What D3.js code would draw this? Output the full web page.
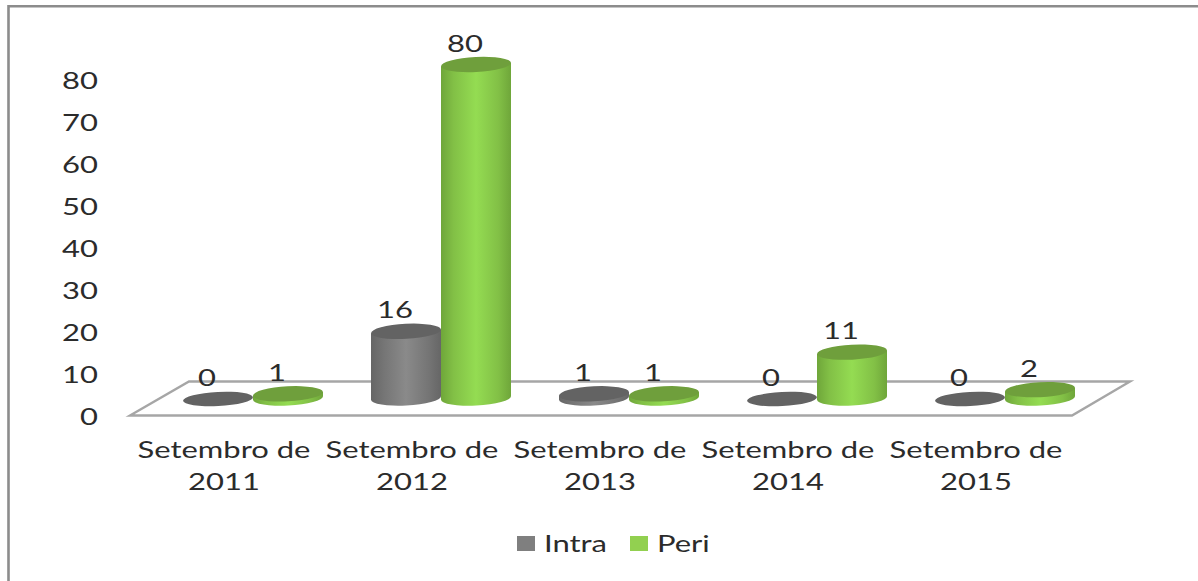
<!DOCTYPE html>
<html><head><meta charset="utf-8">
<script src="https://cdn.jsdelivr.net/npm/d3@7"></script>
<style>html,body{margin:0;background:#fff}svg{display:block}text{font-family:Lato,sans-serif;fill:#2b2b2b}</style>
</head><body><svg id="c" width="1198" height="581"></svg>
<script>
const categories = [["Setembro de","2011"],["Setembro de","2012"],["Setembro de","2013"],["Setembro de","2014"],["Setembro de","2015"]];
const seriesNames = ["Intra","Peri"];
const intra = [0,16,1,0,0];
const peri = [1,80,1,11,2];
const yTicks = [0,10,20,30,40,50,60,70,80];

const svg = d3.select("#c");
const FS = 24, SX = 1.29;
const stretched = (x,y)=>`translate(${x},${y}) scale(${SX},1)`;

const defs = svg.append("defs");
const palette = {
  Intra:{edge:"#666666",near:"#757575",mid:"#8a8a8a",top:"#636363",sw:"#7f7f7f"},
  Peri:{edge:"#6fa63a",near:"#82c046",mid:"#94dc52",top:"#6f9f3c",sw:"#92d050"}
};
seriesNames.forEach(n=>{
  const g = defs.append("linearGradient").attr("id","g"+n).attr("x1",0).attr("x2",1).attr("y1",0).attr("y2",0);
  [[0,palette[n].edge],[.18,palette[n].near],[.5,palette[n].mid],[.82,palette[n].near],[1,palette[n].edge]]
    .forEach(([o,c])=>g.append("stop").attr("offset",o).attr("stop-color",c));
});

// frame
svg.append("path").attr("d","M8.5,581V6.2H1198").attr("fill","none").attr("stroke","#8c8c8c").attr("stroke-width",2.6);

// floor
svg.append("path").attr("d","M130,415.5L189,381.5H1130L1072,415.5Z").attr("fill","#fff").attr("stroke","#a6a6a6").attr("stroke-width",2.4);

const x0 = d3.scaleBand().domain(d3.range(categories.length)).range([130,1070]);
const x1 = d3.scaleBand().domain(seriesNames).range([-41,99]);
const yAxisScale = d3.scaleLinear().domain([0,80]).range([415,79]);
const yBar = d3.scaleLinear().domain([0,80]).range([398,64.5]);

// y axis
const ax = svg.append("g").attr("transform","translate(98,0)").call(d3.axisLeft(yAxisScale).tickValues(yTicks).tickSize(0).tickPadding(0));
ax.select(".domain").remove();
ax.selectAll("text").attr("font-size",FS).attr("x",null).attr("dy",null).attr("text-anchor","end")
  .attr("dominant-baseline","central")
  .attr("transform",stretched(0,0));

// bars
const rx = 35, ry = 7.5, tilt = -3, dy = rx*Math.sin(3*Math.PI/180);
const rows = [];
categories.forEach((c,i)=>{rows.push({i,s:"Intra",v:intra[i]});rows.push({i,s:"Peri",v:peri[i]});});
const bar = svg.append("g").selectAll("g").data(rows).join("g");
bar.each(function(d){
  const g = d3.select(this), cx = x0(d.i)+x0.bandwidth()/2+x1(d.s)+x1.bandwidth()/2;
  const top = d.v===0 ? yBar(0)+1 : yBar(d.v), base = yBar(0);
  if(d.v>0){
    g.append("path").attr("fill",`url(#g${d.s})`)
     .attr("d",`M${cx-rx},${top+dy}L${cx-rx},${base+dy}A${rx},${ry} ${tilt} 0 0 ${cx+rx},${base-dy}L${cx+rx},${top-dy}Z`);
  }
  g.append("ellipse").attr("cx",cx).attr("cy",top).attr("rx",rx).attr("ry",d.v===0?7:ry)
   .attr("transform",`rotate(${tilt},${cx},${top})`).attr("fill",palette[d.s].top);
  svg.append("text").attr("font-size",FS).attr("text-anchor","middle").attr("dominant-baseline","central")
   .attr("transform",stretched(cx-11,top-22)).text(d.v);
});

// category labels
categories.forEach((c,i)=>{
  c.forEach((line,j)=>{
    svg.append("text").attr("font-size",FS).attr("text-anchor","middle").attr("dominant-baseline","central")
     .attr("transform",stretched(x0(i)+x0.bandwidth()/2,449+j*32)).text(line);
  });
});

// legend
const legendX = d3.scaleOrdinal().domain(seriesNames).range([517,630]);
seriesNames.forEach(n=>{
  svg.append("rect").attr("x",legendX(n)).attr("y",536).attr("width",18).attr("height",15).attr("fill",palette[n].sw);
  svg.append("text").attr("font-size",FS).attr("dominant-baseline","central")
   .attr("transform",stretched(legendX(n)+27,543)).text(n);
});
</script></body></html>
